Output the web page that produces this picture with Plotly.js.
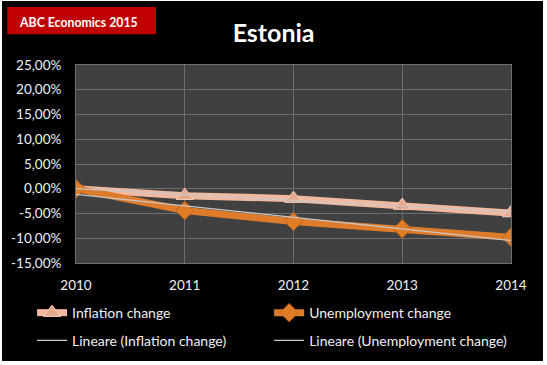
<!DOCTYPE html>
<html>
<head>
<meta charset="utf-8">
<script src="https://cdn.plot.ly/plotly-3.0.1.min.js"></script>
<style>
  html, body { margin: 0; padding: 0; background: #ffffff; }
  #chart { position: absolute; left: 2px; top: 1px; width: 541px; height: 360px; }
</style>
</head>
<body>
<div id="chart"></div>
<script>
// ---- data (percent) ----
const years = [2010, 2011, 2012, 2013, 2014];
const inflationChange = [0.0, -1.4, -2.0, -3.4, -4.9];
const unemploymentChange = [0.0, -4.4, -6.6, -8.1, -9.8];
const yTickValues = [-15, -10, -5, 0, 5, 10, 15, 20, 25];
const yTickLabels = ["-15,00%", "-10,00%", "-5,00%", "0,00%", "5,00%", "10,00%", "15,00%", "20,00%", "25,00%"];
const seriesNames = ["Inflation change", "Unemployment change", "Lineare (Inflation change)", "Lineare (Unemployment change)"];

// least-squares linear trend (Excel "Lineare" trendline)
function linearTrend(xs, ys) {
  const n = xs.length;
  const mx = xs.reduce((a, b) => a + b, 0) / n;
  const my = ys.reduce((a, b) => a + b, 0) / n;
  let sxy = 0, sxx = 0;
  for (let i = 0; i < n; i++) { sxy += (xs[i] - mx) * (ys[i] - my); sxx += (xs[i] - mx) ** 2; }
  const b = sxy / sxx, a = my - b * mx;
  return xs.map(x => a + b * x);
}

const FONT = "Lato, 'Open Sans', sans-serif";

const traces = [
  {
    x: years, y: inflationChange, name: seriesNames[0], type: "scatter", mode: "lines+markers",
    line: { color: "#F2B9A1", width: 7 },
    marker: { symbol: "triangle-up", size: 15, color: "#E5A98E", line: { color: "#F6CDB9", width: 1 } },
    legend: "legend"
  },
  {
    x: years, y: unemploymentChange, name: seriesNames[1], type: "scatter", mode: "lines+markers",
    line: { color: "#DF7C2C", width: 7 },
    marker: { symbol: "diamond", size: 14, color: "#E07B26", line: { color: "#C8651A", width: 1 } },
    legend: "legend2"
  },
  {
    x: years, y: linearTrend(years, inflationChange), name: seriesNames[2], type: "scatter", mode: "lines",
    line: { color: "#C8C8C8", width: 1.2 },
    legend: "legend3"
  },
  {
    x: years, y: linearTrend(years, unemploymentChange), name: seriesNames[3], type: "scatter", mode: "lines",
    line: { color: "#C8C8C8", width: 1.2 },
    legend: "legend4"
  }
];

function legendAt(x, y) {
  return {
    orientation: "h", x: x, xanchor: "left", y: y, yanchor: "top",
    bgcolor: "rgba(0,0,0,0)", borderwidth: 0,
    font: { family: FONT, size: 14, color: "#F0F0F0" }
  };
}

const layout = {
  width: 541, height: 360,
  paper_bgcolor: "#000000",
  plot_bgcolor: "#404040",
  margin: { l: 74, r: 32, t: 64, b: 98, autoexpand: false },
  font: { family: FONT, color: "#F0F0F0", size: 13 },
  separators: ",.",
  title: {
    text: "<b>Estonia</b>",
    font: { family: FONT, size: 25, color: "#FFFFFF" },
    x: 0.502, xref: "container", xanchor: "center",
    y: 0.911, yref: "container", yanchor: "middle"
  },
  xaxis: {
    type: "linear", range: [2010, 2014], tickvals: years, ticktext: years.map(String),
    showgrid: true, gridcolor: "#6E6E6E", gridwidth: 1,
    showline: true, linecolor: "#6E6E6E", mirror: true, zeroline: false,
    ticks: "", ticklabelstandoff: 10,
    tickfont: { family: FONT, size: 13.5, color: "#F0F0F0" }
  },
  yaxis: {
    range: [-15, 25], tickvals: yTickValues, ticktext: yTickLabels,
    showgrid: true, gridcolor: "#6E6E6E", gridwidth: 1,
    showline: true, linecolor: "#6E6E6E", mirror: true, zeroline: false,
    ticks: "", ticklabelstandoff: 11,
    tickfont: { family: FONT, size: 13.5, color: "#F0F0F0" }
  },
  showlegend: true,
  legend: legendAt(-0.101, -0.172),
  legend2: legendAt(0.444, -0.172),
  legend3: legendAt(-0.101, -0.312),
  legend4: legendAt(0.444, -0.312),
  shapes: [
    { type: "rect", xref: "paper", yref: "paper", x0: -0.158, x1: 0.184, y0: 1.155, y1: 1.293,
      fillcolor: "#C00000", line: { width: 0 }, layer: "above" }
  ],
  annotations: [
    { text: "<b>ABC Economics 2015</b>", xref: "paper", yref: "paper", x: 0.006, y: 1.214,
      xanchor: "center", yanchor: "middle", showarrow: false,
      font: { family: FONT, size: 12.3, color: "#FFFFFF" } }
  ]
};

Plotly.newPlot("chart", traces, layout, { displayModeBar: false, staticPlot: true });
</script>
</body>
</html>
